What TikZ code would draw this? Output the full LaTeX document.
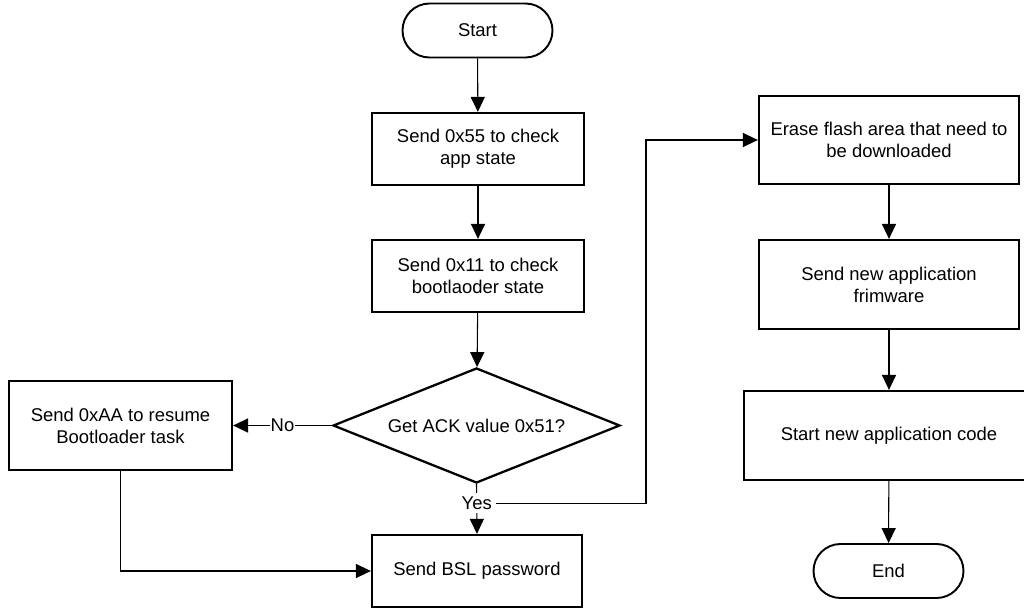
\documentclass[tikz,border=0pt]{standalone}
\usepackage{fontspec}
\setmainfont{Liberation Sans}
\usetikzlibrary{arrows.meta,shapes.geometric}
\begin{document}
\begin{tikzpicture}[
    font=\fontsize{10.5}{12.6}\selectfont,
    box/.style={draw, line width=1.3pt, align=center, minimum width=4.24cm, minimum height=1.44cm},
    term/.style={draw, line width=1.1pt, rounded corners=0.54cm, minimum height=1.08cm, minimum width=3cm},
    decision/.style={draw, diamond, line width=1.3pt, aspect=2.5, inner sep=1pt, minimum width=5.74cm, minimum height=2.3cm},
    flow/.style={-{Triangle[length=8.5pt,width=8pt]}, line width=0.6pt},
    lbl/.style={fill=white, inner sep=0.6pt}
]
\useasboundingbox (0,0) rectangle (20.48,-12.18);
% middle column
\node[term] (start) at (9.55,-0.61) {Start};
\node[box] (chkapp) at (9.56,-2.98) {Send 0x55 to check\\app state};
\node[box] (chkbsl) at (9.56,-5.52) {Send 0x11 to check\\bootlaoder state};
\node[decision] (ack) at (9.53,-8.51) {Get ACK value 0x51?};
\node[box, minimum width=4.46cm, minimum height=1.78cm] (resume) at (2.41,-8.51) {Send 0xAA to resume\\Bootloader task};
\node[box, minimum width=4.2cm] (passwd) at (9.54,-11.42) {Send BSL password};
% right column
\node[box, minimum width=5.2cm, minimum height=1.76cm] (erase) at (17.78,-2.8) {Erase flash area that need to\\be downloaded};
\node[box, minimum width=5.2cm, minimum height=1.78cm] (newfw) at (17.78,-5.69) {Send new application\\frimware};
\node[box, minimum width=5.8cm, minimum height=1.78cm] (runapp) at (17.78,-8.71) {Start new application code};
\node[term] (stop) at (17.77,-11.42) {End};
\coordinate (turn) at (12.92,-2.8);

\draw[flow] (start) -- (chkapp);
\draw[flow] (chkapp) -- (chkbsl);
\draw[flow] (chkbsl) -- (ack);
\draw[flow] (ack.west) -- node[lbl] {No} (resume.east);
\draw[flow] (ack.south) -- node[lbl, pos=0.38, inner sep=2pt] (yes) {Yes} (passwd.north);
\draw[flow] (yes.east) -- (yes.east -| turn) |- (erase.west);
\draw[flow] (resume.south) |- (passwd.west);
\draw[flow] (erase) -- (newfw);
\draw[flow] (newfw) -- (runapp);
\draw[flow] (runapp) -- (stop);
\end{tikzpicture}
\end{document}
